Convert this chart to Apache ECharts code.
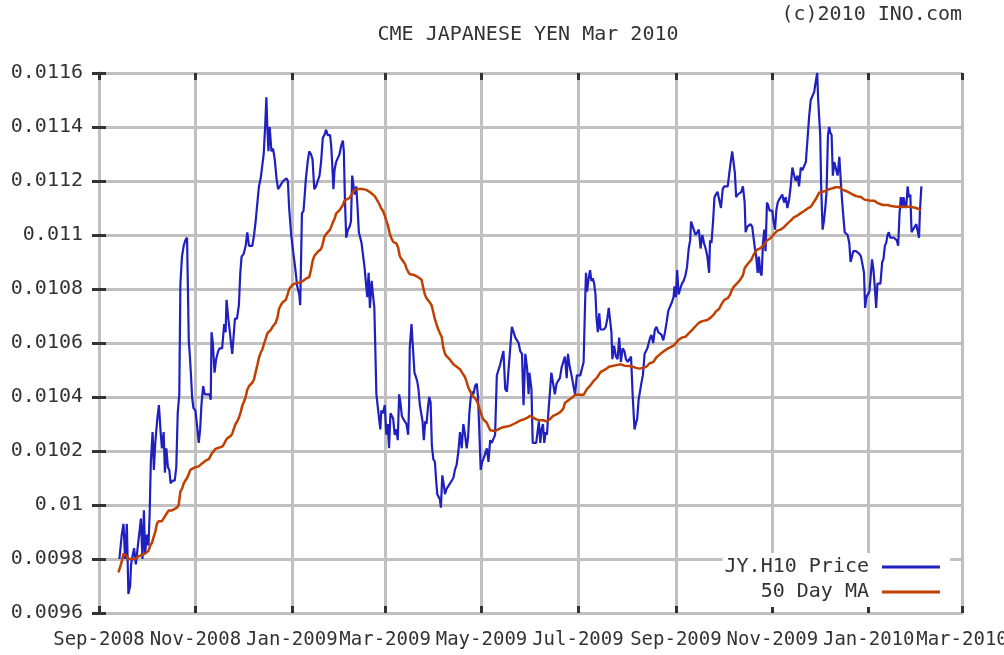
<!DOCTYPE html>
<html>
<head>
<meta charset="utf-8">
<script src="https://cdn.jsdelivr.net/npm/echarts@6.0.0/dist/echarts.min.js"></script>
<style>
  html, body { margin: 0; padding: 0; background: #fff; }
  #chart { width: 1004px; height: 655px; }
</style>
</head>
<body>
<div id="chart"></div>
<script>
// x = days since 1 Sep 2008
const xTickDays = [0, 61, 122, 181, 242, 303, 365, 426, 487, 546];
const xTickLabels = ['Sep-2008', 'Nov-2008', 'Jan-2009', 'Mar-2009', 'May-2009',
    'Jul-2009', 'Sep-2009', 'Nov-2009', 'Jan-2010', 'Mar-2010'];
const yTickLabels = ['0.0096', '0.0098', '0.01', '0.0102', '0.0104', '0.0106',
    '0.0108', '0.011', '0.0112', '0.0114', '0.0116'];

const priceDays = [
    12.9, 14.4, 15.5, 16.5, 17.6, 18.6, 19.7, 20.3, 21.2, 22.2, 23.3, 24.6, 25.6, 26.5, 27.5, 28.4, 29.2, 30.3, 31.3, 32.0,
    32.8, 33.9, 34.7, 35.6, 36.9, 37.9, 39.0, 39.8, 40.9, 41.7, 42.6, 43.6, 44.5, 45.3, 46.6, 47.9, 48.9, 49.8, 50.8, 51.5,
    52.5, 53.6, 54.6, 55.7, 56.3, 56.8, 57.4, 58.2, 58.9, 59.7, 61.0, 62.1, 63.1, 64.0, 64.8, 65.9, 66.9, 68.4, 69.9, 70.7,
    71.2, 72.0, 73.1, 74.1, 75.4, 76.2, 77.9, 79.2, 80.1, 80.7, 81.8, 82.8, 83.5, 84.3, 85.1, 86.0, 87.3, 88.5, 89.4, 90.2,
    91.5, 92.8, 93.8, 94.9, 95.9, 97.0, 98.1, 99.1, 100.2, 101.2, 102.3, 103.4, 104.2, 105.1, 105.9, 106.5, 107.2, 108.0, 109.1, 110.1,
    111.2, 112.3, 113.3, 114.4, 115.4, 116.5, 117.5, 118.6, 119.5, 120.3, 121.6, 122.8, 124.1, 125.4, 126.7, 127.3, 128.4, 129.4, 130.3, 130.9,
    132.0, 133.0, 134.1, 135.1, 136.2, 137.3, 138.4, 139.5, 140.5, 141.6, 142.6, 143.7, 144.7, 146.2, 146.9, 147.5, 148.3, 149.0, 150.0, 151.1,
    152.2, 153.2, 154.3, 154.9, 155.6, 156.4, 157.5, 158.5, 159.4, 160.2, 161.1, 161.9, 162.8, 163.6, 164.4, 165.3, 166.1, 167.0, 168.0, 169.1,
    169.7, 170.6, 171.4, 172.5, 173.3, 174.2, 175.0, 175.5, 176.3, 177.2, 178.0, 178.6, 179.7, 180.8, 181.8, 182.7, 183.5, 184.4, 185.2, 186.1,
    187.1, 188.2, 189.0, 189.9, 190.7, 191.6, 192.4, 193.5, 194.5, 195.6, 196.2, 196.6, 197.7, 198.8, 199.6, 200.5, 201.3, 202.1, 203.0, 203.8,
    204.7, 205.5, 206.4, 207.2, 208.1, 208.9, 209.8, 210.6, 211.5, 212.5, 213.2, 214.0, 214.9, 215.7, 216.3, 217.2, 218.0, 218.9, 219.9, 221.0,
    222.1, 223.1, 224.2, 225.2, 226.3, 227.4, 228.4, 229.5, 230.5, 231.6, 232.6, 233.5, 234.3, 235.2, 236.0, 236.9, 237.9, 239.0, 239.8, 240.7,
    241.5, 242.4, 243.2, 244.3, 245.4, 246.4, 247.5, 248.5, 249.6, 250.6, 251.7, 252.8, 253.8, 254.9, 255.9, 257.0, 258.1, 259.1, 260.2, 261.2,
    262.3, 263.4, 264.4, 265.5, 266.5, 267.6, 268.6, 269.7, 270.8, 271.8, 272.3, 273.6, 274.4, 275.5, 276.6, 277.7, 278.3, 279.2, 280.0, 280.9,
    281.7, 282.6, 283.4, 284.3, 285.2, 286.2, 287.3, 288.4, 289.5, 290.5, 291.6, 292.7, 293.7, 294.8, 295.9, 296.7, 297.6, 298.5, 299.3, 300.2,
    301.2, 302.3, 303.4, 304.5, 305.5, 306.6, 307.5, 308.1, 308.8, 309.8, 310.7, 311.5, 312.4, 313.3, 314.1, 314.8, 315.6, 316.5, 317.3, 318.4,
    319.5, 320.6, 321.6, 322.5, 323.3, 324.2, 324.8, 325.9, 327.0, 328.1, 329.1, 330.2, 331.3, 332.4, 333.4, 334.5, 335.6, 336.6, 337.7, 338.8,
    339.6, 340.5, 341.4, 342.2, 343.1, 344.1, 345.2, 346.1, 346.9, 347.8, 348.7, 349.5, 350.6, 351.7, 352.7, 353.8, 354.9, 355.9, 357.0, 358.1,
    359.2, 360.2, 361.3, 362.4, 363.5, 364.1, 365.0, 365.8, 366.7, 367.7, 368.8, 369.9, 371.0, 372.0, 373.1, 374.0, 374.6, 375.3, 376.3, 377.4,
    378.5, 379.5, 380.6, 381.7, 382.8, 383.8, 384.9, 386.0, 386.6, 387.5, 388.5, 389.4, 390.3, 391.3, 392.4, 393.5, 394.6, 395.6, 396.7, 397.8,
    398.8, 399.9, 400.6, 401.4, 402.3, 403.1, 404.2, 405.3, 406.4, 407.4, 408.5, 409.1, 410.1, 411.2, 412.2, 413.3, 414.1, 415.0, 415.8, 416.7,
    417.5, 418.4, 419.2, 420.1, 420.9, 421.7, 422.6, 423.4, 424.3, 425.1, 426.0, 426.8, 427.7, 428.5, 429.4, 430.2, 431.3, 432.3, 433.4, 434.5,
    435.5, 436.6, 437.6, 438.7, 439.8, 440.8, 441.9, 442.9, 444.0, 445.0, 446.1, 447.2, 448.2, 449.3, 450.3, 451.4, 452.5, 453.5, 454.4, 455.0,
    455.7, 456.3, 456.9, 457.8, 458.6, 459.5, 460.3, 461.2, 462.0, 462.6, 463.5, 464.3, 465.2, 466.2, 467.3, 468.4, 469.2, 470.1, 470.9, 471.8,
    472.6, 473.6, 474.7, 475.5, 476.4, 477.2, 478.1, 478.9, 480.0, 481.1, 482.1, 483.2, 484.0, 484.7, 485.5, 486.6, 487.4, 488.3, 489.1, 490.0,
    490.8, 491.7, 492.5, 493.4, 494.4, 495.5, 496.3, 497.2, 498.0, 498.9, 499.7, 500.6, 501.8, 502.9, 503.9, 504.8, 505.6, 506.5, 507.3, 508.2,
    509.0, 509.9, 510.7, 511.6, 512.4, 513.3, 514.1, 515.0, 516.0, 517.1, 517.9, 518.8, 519.4, 520.3
];
const priceVals = [
    0.00980, 0.00989, 0.00993, 0.00980, 0.00993, 0.00967, 0.00970, 0.00978, 0.00981, 0.00984, 0.00978, 0.00985, 0.00990, 0.00995, 0.00980, 0.00998, 0.00982, 0.00989, 0.00985, 0.00996,
    0.01016, 0.01027, 0.01013, 0.01023, 0.01032, 0.01037, 0.01027, 0.01021, 0.01027, 0.01012, 0.01021, 0.01014, 0.01013, 0.01008, 0.01009, 0.01009, 0.01014, 0.01034, 0.01041, 0.01082,
    0.01092, 0.01096, 0.01098, 0.01099, 0.01099, 0.01061, 0.01056, 0.01048, 0.01040, 0.01036, 0.01035, 0.01029, 0.01023, 0.01028, 0.01037, 0.01044, 0.01041, 0.01041, 0.01041, 0.01039,
    0.01064, 0.01060, 0.01049, 0.01054, 0.01057, 0.01058, 0.01058, 0.01067, 0.01064, 0.01076, 0.01069, 0.01064, 0.01060, 0.01056, 0.01062, 0.01069, 0.01069, 0.01074, 0.01086, 0.01092,
    0.01093, 0.01096, 0.01101, 0.01096, 0.01096, 0.01096, 0.01100, 0.01105, 0.01112, 0.01118, 0.01121, 0.01121, 0.01130, 0.01140, 0.01151, 0.01140, 0.01131, 0.01140, 0.01131, 0.01132,
    0.01128, 0.01121, 0.01117, 0.01118, 0.01118, 0.01120, 0.01120, 0.01121, 0.01120, 0.01110, 0.01100, 0.01094, 0.01088, 0.01081, 0.01078, 0.01074, 0.01108, 0.01109, 0.01116, 0.01121,
    0.01127, 0.01131, 0.01130, 0.01128, 0.01117, 0.01118, 0.01120, 0.01122, 0.01127, 0.01136, 0.01137, 0.01139, 0.01137, 0.01137, 0.01133, 0.01127, 0.01117, 0.01124, 0.01127, 0.01127,
    0.01130, 0.01133, 0.01135, 0.01131, 0.01113, 0.01099, 0.01102, 0.01103, 0.01105, 0.01122, 0.01118, 0.01115, 0.01118, 0.01110, 0.01101, 0.01099, 0.01097, 0.01097, 0.01088, 0.01088,
    0.01077, 0.01086, 0.01073, 0.01083, 0.01078, 0.01073, 0.01073, 0.01041, 0.01041, 0.01032, 0.01028, 0.01035, 0.01034, 0.01037, 0.01026, 0.01030, 0.01021, 0.01034, 0.01034, 0.01032,
    0.01026, 0.01028, 0.01024, 0.01041, 0.01038, 0.01033, 0.01032, 0.01032, 0.01030, 0.01026, 0.01037, 0.01058, 0.01067, 0.01067, 0.01049, 0.01049, 0.01046, 0.01043, 0.01037, 0.01037,
    0.01031, 0.01024, 0.01031, 0.01030, 0.01036, 0.01040, 0.01038, 0.01022, 0.01017, 0.01016, 0.01010, 0.01004, 0.01004, 0.01002, 0.00999, 0.01011, 0.01008, 0.01004, 0.01006, 0.01006,
    0.01008, 0.01008, 0.01010, 0.01013, 0.01015, 0.01020, 0.01027, 0.01021, 0.01030, 0.01026, 0.01021, 0.01025, 0.01034, 0.01040, 0.01042, 0.01041, 0.01044, 0.01045, 0.01040, 0.01026,
    0.01013, 0.01016, 0.01017, 0.01017, 0.01021, 0.01016, 0.01024, 0.01023, 0.01023, 0.01026, 0.01048, 0.01048, 0.01052, 0.01052, 0.01057, 0.01043, 0.01042, 0.01050, 0.01050, 0.01066,
    0.01064, 0.01062, 0.01062, 0.01060, 0.01057, 0.01056, 0.01037, 0.01056, 0.01051, 0.01041, 0.01049, 0.01043, 0.01023, 0.01023, 0.01023, 0.01023, 0.01031, 0.01023, 0.01028, 0.01030,
    0.01023, 0.01027, 0.01026, 0.01034, 0.01034, 0.01049, 0.01045, 0.01041, 0.01045, 0.01046, 0.01047, 0.01051, 0.01051, 0.01055, 0.01047, 0.01056, 0.01052, 0.01052, 0.01047, 0.01044,
    0.01041, 0.01048, 0.01048, 0.01048, 0.01048, 0.01053, 0.01074, 0.01086, 0.01079, 0.01084, 0.01087, 0.01083, 0.01084, 0.01082, 0.01078, 0.01069, 0.01064, 0.01071, 0.01065, 0.01065,
    0.01065, 0.01066, 0.01069, 0.01073, 0.01073, 0.01064, 0.01054, 0.01059, 0.01055, 0.01054, 0.01062, 0.01053, 0.01058, 0.01057, 0.01054, 0.01053, 0.01054, 0.01055, 0.01040, 0.01028,
    0.01030, 0.01032, 0.01039, 0.01039, 0.01045, 0.01048, 0.01056, 0.01056, 0.01058, 0.01060, 0.01062, 0.01063, 0.01060, 0.01065, 0.01066, 0.01064, 0.01064, 0.01063, 0.01061, 0.01064,
    0.01068, 0.01072, 0.01072, 0.01075, 0.01077, 0.01081, 0.01077, 0.01087, 0.01078, 0.01080, 0.01082, 0.01083, 0.01085, 0.01088, 0.01095, 0.01098, 0.01105, 0.01105, 0.01102, 0.01100,
    0.01101, 0.01102, 0.01095, 0.01100, 0.01097, 0.01095, 0.01092, 0.01086, 0.01098, 0.01097, 0.01105, 0.01114, 0.01115, 0.01116, 0.01116, 0.01110, 0.01117, 0.01118, 0.01118, 0.01118,
    0.01123, 0.01128, 0.01131, 0.01131, 0.01123, 0.01114, 0.01115, 0.01115, 0.01116, 0.01118, 0.01112, 0.01101, 0.01103, 0.01103, 0.01104, 0.01103, 0.01099, 0.01095, 0.01092, 0.01086,
    0.01092, 0.01086, 0.01085, 0.01097, 0.01102, 0.01094, 0.01112, 0.01111, 0.01109, 0.01109, 0.01109, 0.01105, 0.01102, 0.01109, 0.01112, 0.01113, 0.01114, 0.01115, 0.01112, 0.01114,
    0.01110, 0.01113, 0.01118, 0.01125, 0.01122, 0.01120, 0.01122, 0.01118, 0.01125, 0.01124, 0.01124, 0.01127, 0.01135, 0.01144, 0.01150, 0.01150, 0.01153, 0.01157, 0.01160, 0.01150,
    0.01150, 0.01137, 0.01118, 0.01102, 0.01105, 0.01110, 0.01116, 0.01137, 0.01140, 0.01138, 0.01137, 0.01122, 0.01127, 0.01127, 0.01122, 0.01129, 0.01121, 0.01113, 0.01107, 0.01101,
    0.01101, 0.01100, 0.01097, 0.01090, 0.01092, 0.01094, 0.01094, 0.01094, 0.01094, 0.01093, 0.01092, 0.01092, 0.01086, 0.01073, 0.01077, 0.01077, 0.01079, 0.01079, 0.01091, 0.01087,
    0.01081, 0.01073, 0.01082, 0.01082, 0.01082, 0.01090, 0.01091, 0.01096, 0.01097, 0.01100, 0.01101, 0.01099, 0.01099, 0.01099, 0.01099, 0.01098, 0.01096, 0.01108, 0.01114, 0.01110,
    0.01114, 0.01111, 0.01110, 0.01118, 0.01114, 0.01115, 0.01101, 0.01102, 0.01102, 0.01104, 0.01104, 0.01099, 0.01109, 0.01118
];

const maDays = [
    12.3, 14.4, 15.5, 17.6, 18.6, 20.8, 22.9, 25.0, 27.1, 29.2, 31.3, 32.4, 33.5, 34.5, 35.6, 36.6, 37.7, 39.8, 41.9, 44.1,
    46.2, 49.3, 50.4, 51.5, 52.5, 53.6, 54.6, 55.7, 56.8, 57.8, 58.9, 61.0, 63.1, 65.2, 67.4, 69.5, 71.6, 73.7, 75.8, 77.9,
    79.0, 80.1, 81.1, 83.2, 84.3, 85.4, 86.4, 87.5, 88.5, 89.6, 90.7, 91.7, 92.8, 93.8, 94.9, 97.0, 98.1, 99.1, 100.2, 101.2,
    102.3, 103.4, 104.4, 105.5, 106.5, 107.6, 108.7, 109.7, 111.8, 112.9, 113.9, 115.0, 116.1, 118.2, 119.2, 120.3, 122.4, 124.5, 126.7, 128.8,
    130.9, 133.0, 134.1, 135.1, 136.2, 138.4, 140.5, 141.6, 142.6, 143.7, 144.7, 146.2, 147.9, 149.0, 150.0, 152.2, 153.2, 154.3, 155.3, 156.4,
    158.5, 159.6, 160.6, 161.7, 163.8, 167.0, 169.1, 170.2, 171.2, 172.3, 174.4, 175.5, 176.5, 177.6, 178.6, 179.7, 180.8, 181.8, 182.9, 183.9,
    185.0, 186.1, 187.1, 188.2, 189.2, 190.3, 191.3, 192.4, 193.5, 194.5, 195.6, 196.6, 198.8, 199.8, 201.9, 204.1, 205.1, 206.2, 207.2, 208.3,
    209.3, 210.4, 211.5, 212.5, 213.6, 214.6, 215.7, 216.8, 217.8, 218.9, 219.9, 222.1, 224.2, 226.3, 228.4, 229.5, 230.5, 231.6, 232.6, 233.7,
    234.8, 235.8, 236.9, 237.9, 239.0, 240.1, 241.1, 242.2, 243.2, 244.3, 245.4, 246.4, 247.5, 248.5, 250.7, 252.8, 254.9, 258.1, 260.2, 262.3,
    264.4, 266.5, 268.7, 270.8, 272.9, 276.6, 278.7, 280.9, 283.0, 285.2, 287.3, 289.5, 291.6, 293.7, 294.8, 297.0, 299.1, 301.2, 306.6, 307.7,
    308.8, 310.9, 313.0, 315.2, 317.3, 318.4, 320.6, 322.7, 324.8, 328.1, 330.2, 332.4, 335.6, 337.7, 339.9, 342.0, 344.1, 346.3, 348.4, 350.6,
    352.7, 354.9, 357.0, 359.2, 361.3, 363.5, 365.6, 366.7, 368.8, 371.0, 373.1, 375.3, 377.4, 379.5, 381.7, 384.9, 387.0, 389.2, 390.3, 391.3,
    392.4, 393.5, 394.6, 395.6, 397.8, 399.3, 400.6, 402.1, 403.1, 405.3, 407.4, 408.5, 410.0, 411.2, 412.8, 414.3, 416.4, 418.6, 420.7, 422.8,
    424.9, 427.0, 429.2, 431.3, 433.4, 435.5, 437.6, 439.8, 441.9, 444.0, 446.1, 448.2, 450.4, 452.5, 453.9, 455.6, 457.7, 459.8, 462.0, 464.1,
    466.2, 468.4, 470.5, 472.6, 474.7, 476.8, 479.0, 482.1, 484.3, 487.4, 490.6, 492.7, 495.9, 499.1, 501.2, 504.4, 508.6, 512.8, 515.8, 518.0,
    520.1
];
const maVals = [
    0.009750, 0.009790, 0.009820, 0.009810, 0.009800, 0.009800, 0.009800, 0.009810, 0.009815, 0.009820, 0.009830, 0.009850, 0.009860, 0.009880, 0.009900, 0.009930, 0.009940, 0.009940, 0.009960, 0.009980,
    0.009980, 0.009990, 0.010000, 0.010050, 0.010060, 0.010080, 0.010090, 0.010100, 0.010115, 0.010130, 0.010134, 0.010140, 0.010143, 0.010154, 0.010164, 0.010170, 0.010193, 0.010208, 0.010212, 0.010216,
    0.010225, 0.010238, 0.010247, 0.010255, 0.010264, 0.010284, 0.010300, 0.010310, 0.010323, 0.010343, 0.010369, 0.010382, 0.010401, 0.010427, 0.010440, 0.010453, 0.010466, 0.010492, 0.010519, 0.010545,
    0.010564, 0.010577, 0.010597, 0.010616, 0.010636, 0.010642, 0.010649, 0.010659, 0.010675, 0.010694, 0.010727, 0.010740, 0.010750, 0.010760, 0.010777, 0.010799, 0.010816, 0.010821, 0.010823, 0.010829,
    0.010838, 0.010844, 0.010870, 0.010903, 0.010922, 0.010938, 0.010948, 0.010968, 0.010994, 0.011003, 0.011007, 0.011020, 0.011046, 0.011059, 0.011079, 0.011092, 0.011098, 0.011111, 0.011127, 0.011134,
    0.011137, 0.011144, 0.011157, 0.011167, 0.011170, 0.011170, 0.011167, 0.011163, 0.011160, 0.011154, 0.011144, 0.011134, 0.011124, 0.011111, 0.011098, 0.011089, 0.011072, 0.011053, 0.011033, 0.011007,
    0.010988, 0.010975, 0.010972, 0.010968, 0.010955, 0.010922, 0.010912, 0.010903, 0.010894, 0.010877, 0.010864, 0.010855, 0.010853, 0.010847, 0.010844, 0.010834, 0.010805, 0.010779, 0.010766, 0.010760,
    0.010750, 0.010740, 0.010714, 0.010688, 0.010668, 0.010651, 0.010636, 0.010623, 0.010584, 0.010560, 0.010551, 0.010538, 0.010521, 0.010512, 0.010503, 0.010492, 0.010490, 0.010473, 0.010456, 0.010434,
    0.010421, 0.010408, 0.010401, 0.010395, 0.010386, 0.010369, 0.010349, 0.010330, 0.010317, 0.010310, 0.010304, 0.010291, 0.010277, 0.010274, 0.010274, 0.010281, 0.010287, 0.010291, 0.010294, 0.010300,
    0.010306, 0.010313, 0.010317, 0.010323, 0.010330, 0.010317, 0.010314, 0.010314, 0.010310, 0.010317, 0.010330, 0.010336, 0.010343, 0.010356, 0.010378, 0.010388, 0.010397, 0.010408, 0.010408, 0.010414,
    0.010430, 0.010443, 0.010460, 0.010473, 0.010492, 0.010499, 0.010503, 0.010512, 0.010515, 0.010519, 0.010521, 0.010516, 0.010515, 0.010512, 0.010508, 0.010505, 0.010508, 0.010512, 0.010525, 0.010529,
    0.010547, 0.010558, 0.010568, 0.010577, 0.010584, 0.010590, 0.010603, 0.010612, 0.010620, 0.010623, 0.010636, 0.010649, 0.010662, 0.010675, 0.010681, 0.010685, 0.010694, 0.010707, 0.010717, 0.010720,
    0.010727, 0.010740, 0.010747, 0.010760, 0.010766, 0.010779, 0.010799, 0.010812, 0.010818, 0.010831, 0.010851, 0.010877, 0.010890, 0.010896, 0.010909, 0.010929, 0.010946, 0.010951, 0.010964, 0.010981,
    0.010988, 0.011003, 0.011016, 0.011020, 0.011029, 0.011042, 0.011053, 0.011066, 0.011072, 0.011081, 0.011089, 0.011098, 0.011105, 0.011124, 0.011137, 0.011157, 0.011160, 0.011163, 0.011170, 0.011173,
    0.011177, 0.011177, 0.011167, 0.011163, 0.011157, 0.011150, 0.011144, 0.011141, 0.011131, 0.011128, 0.011127, 0.011118, 0.011111, 0.011111, 0.011107, 0.011105, 0.011105, 0.011105, 0.011102, 0.011098,
    0.011092
];

const FONT = 'DejaVu Sans Mono';
const TEXT = '#333333';
const GRID = '#c0c0c0';
const TICK = '#333333';

function zip(xs, ys) {
    return xs.map((x, i) => [x, ys[i]]);
}

const chart = echarts.init(document.getElementById('chart'), null, { renderer: 'canvas' });

const textStyle = { fontFamily: FONT, fontSize: 20, color: TEXT };

const option = {
    animation: false,
    backgroundColor: '#ffffff',
    title: [
        {
            text: 'CME JAPANESE YEN Mar 2010',
            left: 528, top: 25, padding: 0, textAlign: 'center',
            textStyle: { ...textStyle, fontWeight: 'normal' }
        },
        {
            text: '(c)2010 INO.com',
            right: 42, top: 5, padding: 0,
            textStyle: { ...textStyle, fontWeight: 'normal' }
        }
    ],
    grid: { left: 99, right: 42, top: 73, bottom: 42, containLabel: false, outerBoundsMode: 'none' },
    legend: {
        orient: 'vertical',
        right: 54, top: 553,
        align: 'right',
        icon: 'rect',
        itemWidth: 58, itemHeight: 3, itemGap: 5,
        backgroundColor: '#ffffff',
        padding: [4, 10, 5, 2],
        textStyle: { ...textStyle, padding: [0, 8, 0, 0] },
        data: ['JY.H10 Price', '50 Day MA']
    },
    xAxis: [
        {
            type: 'value', min: 0, max: 546, position: 'bottom',
            axisLine: { lineStyle: { color: GRID, width: 3 } },
            axisTick: { inside: true, length: 7, customValues: xTickDays, lineStyle: { color: TICK, width: 3 } },
            axisLabel: {
                customValues: xTickDays, margin: 18, ...textStyle, fontSize: 19,
                showMinLabel: true, showMaxLabel: true, hideOverlap: false,
                formatter: v => xTickLabels[xTickDays.indexOf(v)]
            },
            splitLine: { show: true, lineStyle: { color: GRID, width: 3 } }
        },
        {
            type: 'value', min: 0, max: 546, position: 'top',
            axisLine: { lineStyle: { color: GRID, width: 3 } },
            axisTick: { inside: true, length: 7, customValues: xTickDays, lineStyle: { color: TICK, width: 3 } },
            axisLabel: { show: false },
            splitLine: { show: false }
        }
    ],
    yAxis: [
        {
            type: 'value', min: 0.0096, max: 0.0116, interval: 0.0002, position: 'left',
            axisLine: { show: true, lineStyle: { color: GRID, width: 3 } },
            axisTick: { show: true, inside: true, length: 7, lineStyle: { color: TICK, width: 3 } },
            axisLabel: {
                margin: 16, ...textStyle,
                formatter: v => yTickLabels[Math.round((v - 0.0096) / 0.0002)]
            },
            splitLine: { show: true, lineStyle: { color: GRID, width: 3 } }
        },
        {
            type: 'value', min: 0.0096, max: 0.0116, interval: 0.0002, position: 'right',
            axisLine: { show: true, lineStyle: { color: GRID, width: 3 } },
            axisTick: { show: true, inside: true, length: 7, lineStyle: { color: TICK, width: 3 } },
            axisLabel: { show: false },
            splitLine: { show: false }
        }
    ],
    series: [
        {
            name: 'JY.H10 Price', type: 'line',
            data: zip(priceDays, priceVals),
            showSymbol: false, symbol: 'none',
            lineStyle: { color: '#2020c0', width: 2.2 },
            itemStyle: { color: '#2020c0' },
            z: 3
        },
        {
            name: '50 Day MA', type: 'line',
            data: zip(maDays, maVals),
            showSymbol: false, symbol: 'none',
            lineStyle: { color: '#c04000', width: 2.5 },
            itemStyle: { color: '#c04000' },
            z: 4
        }
    ]
};

chart.setOption(option);
</script>
</body>
</html>
